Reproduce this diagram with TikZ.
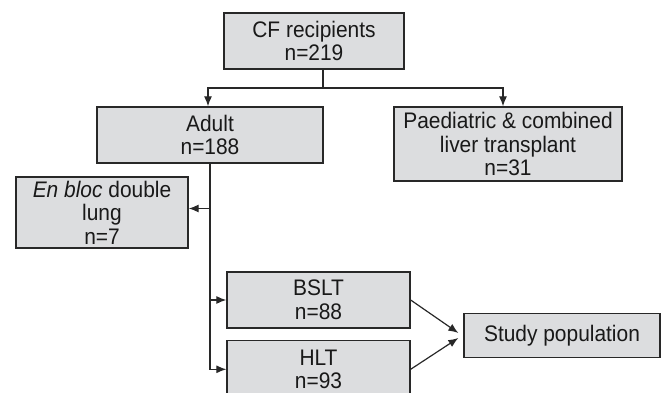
\documentclass[tikz,border=0pt]{standalone}
\usepackage{fontspec}
\setmainfont[FakeStretch=0.93]{Liberation Sans}
\usetikzlibrary{arrows.meta, positioning}
\definecolor{boxgray}{RGB}{220,221,223}
\definecolor{edgegray}{RGB}{40,40,40}

\begin{document}
\begin{tikzpicture}[
  x=1pt, y=-1pt,
  node distance=11pt,
  block/.style={draw=edgegray, line width=1.3pt, fill=boxgray, inner sep=0pt, align=center,
                font=\fontsize{22.5}{23.5}\selectfont, text=black!90},
  arrow/.style={-{Latex[length=10pt,width=8pt]}, line width=1.2pt, edgegray}
]
\useasboundingbox (0,0) rectangle (661,393);

% Top: recipients and first split
\node[block, minimum width=180pt, minimum height=56pt] (cf) at (314,41) {CF recipients\\n=219};
\node[block, minimum width=226pt, minimum height=56pt] (adult) at (210,135) {Adult\\n=188};
\node[block, minimum width=228pt, minimum height=74pt] (paed) at (508,144) {Paediatric \& combined\\liver transplant\\n=31};

% Adult branches
\node[block, minimum width=172pt, minimum height=71pt] (bloc) at (102,212.5) {\textit{En bloc} double\\lung\\n=7};
\node[block, minimum width=183pt, minimum height=56pt] (bslt) at (318.5,300) {BSLT\\n=88};
\node[block, minimum width=183pt, minimum height=58pt, below=of bslt] (hlt) {HLT\\n=93};
\node[block, minimum width=196pt, minimum height=44pt] (study) at (562,335.5) {Study population};

% Arrows
\coordinate (split) at (323,88);
\draw[line width=1.2pt, edgegray] (cf.south -| split) -- (split);
\draw[arrow] (split) -| ([xshift=-2pt]adult.north);
\draw[arrow] (split) -| ([xshift=-5pt]paed.north);
\draw[arrow] (adult.south) |- ([yshift=4pt]bloc.east);
\draw[arrow] (adult.south) |- (bslt.west);
\draw[arrow] (adult.south) |- (hlt.west);
\draw[arrow] (bslt.east) -- ([xshift=-5pt,yshift=2.5pt]study.west);
\draw[arrow] (hlt.east) -- ([xshift=-5pt,yshift=-2.5pt]study.west);

\end{tikzpicture}
\end{document}
